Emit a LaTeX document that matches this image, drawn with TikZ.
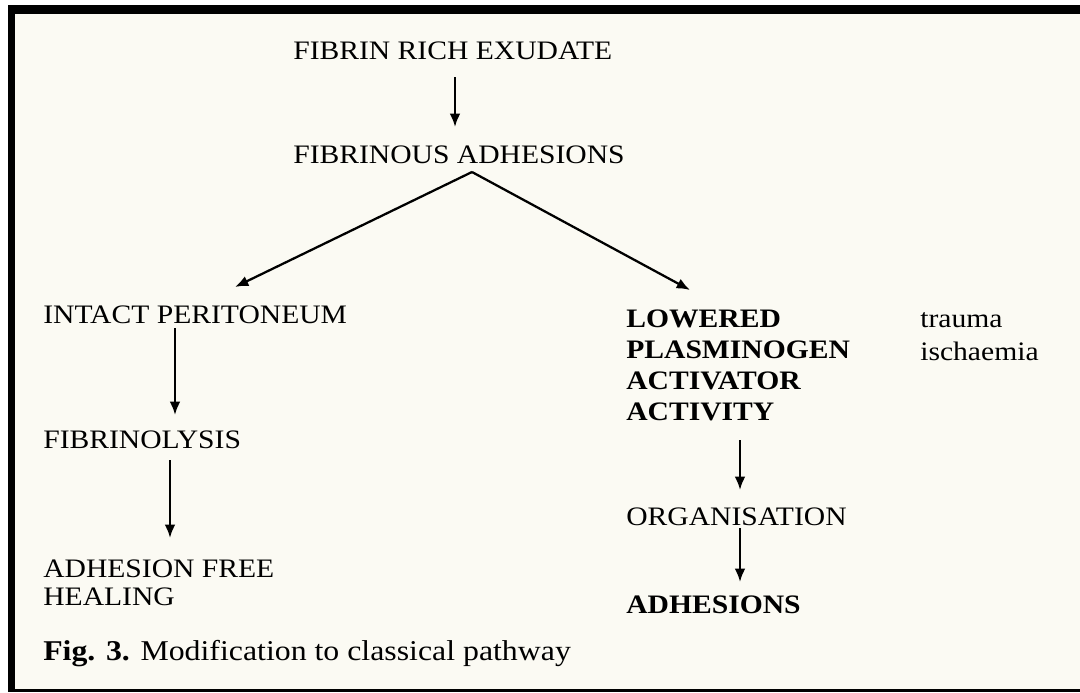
\documentclass[tikz,border=0pt]{standalone}
\usepackage{fontspec}
\setmainfont{Liberation Serif}
\usetikzlibrary{calc,arrows.meta}
\definecolor{paper}{HTML}{FBFAF3}
\tikzset{lbl/.style={anchor=base west, inner sep=0pt, xscale=1.11, font=\fontsize{20}{21}\selectfont},
  arr/.style={line width=1.7pt, -{Latex[length=10pt,width=8pt]}}}
\begin{document}
\begin{tikzpicture}[x=0.75pt,y=-0.75pt]
\useasboundingbox (0,0) rectangle (1080,692);
\fill[white] (0,0) rectangle (1080,692);
\fill[paper] (8,5) rectangle (1080,692);
% frame of the scan
\fill (8,5) rectangle (1080,14);
\fill (8,5) rectangle (15,692);
\fill (8,689) rectangle (1080,692);

% multi-line nodes sit on the baseline of their last line
\node[lbl] (exudate) at (293,60) {FIBRIN RICH EXUDATE};
\node[lbl] (fadh) at (293,163) {FIBRINOUS ADHESIONS};
\node[lbl] (intact) at (43,323) {INTACT PERITONEUM};
\node[lbl] (lysis) at (43,448) {FIBRINOLYSIS};
\node[lbl, align=left, font=\fontsize{20}{21}\selectfont] (free) at (43,605) {ADHESION FREE\\HEALING};
\node[lbl, align=left, font=\bfseries\fontsize{20}{23.25}\selectfont] (lowered) at (626,420) {LOWERED\\PLASMINOGEN\\ACTIVATOR\\ACTIVITY};
\node[lbl, align=left, font=\fontsize{20}{24.75}\selectfont] (causes) at (920,360) {trauma\\ischaemia};
\node[lbl] (organ) at (626,525) {ORGANISATION};
\node[lbl, font=\bfseries\fontsize{20}{21}\selectfont] (adh) at (626,613) {ADHESIONS};
\node[lbl, font=\fontsize{21.5}{22}\selectfont] (caption) at (43,660) {\textbf{Fig. 3.} Modification to classical pathway};

\draw[arr] ($(exudate.base west)+(162,17)$) -- ($(fadh.base west)+(162,-36)$);
\draw[arr] ($(fadh.base west)+(179,9)$) -- ($(intact.base west)+(192,-36)$);
\draw[arr] ($(fadh.base west)+(179,9)$) -- ($(lowered.base west)+(64,-130)$);
\draw[arr] ($(intact.base west)+(132,5)$) -- ($(lysis.base west)+(132,-33)$);
\draw[arr] ($(lysis.base west)+(127,12)$) -- ($(free.base west)+(127,-67)$);
\draw[arr] ($(lowered.base west)+(114,20)$) -- ($(organ.base west)+(114,-35)$);
\draw[arr] ($(organ.base west)+(114,3)$) -- ($(adh.base west)+(114,-31)$);
\end{tikzpicture}
\end{document}
